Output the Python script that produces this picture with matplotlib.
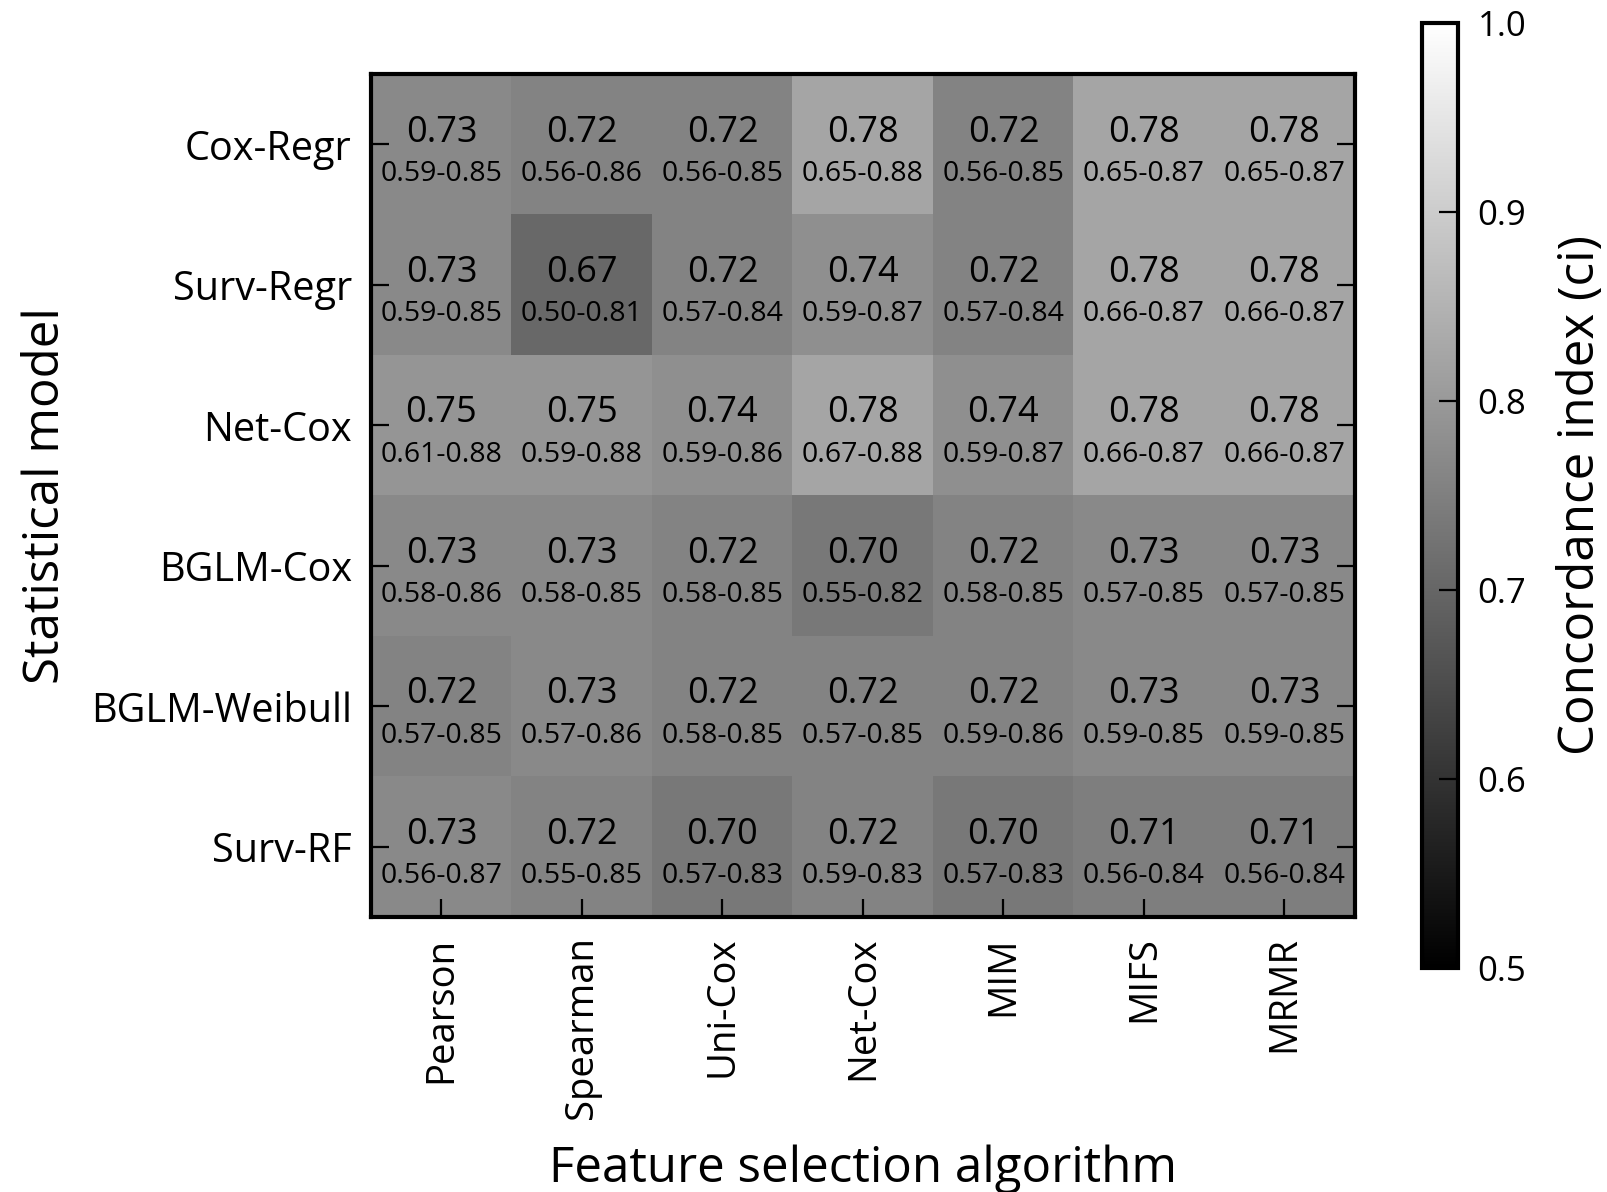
import matplotlib
matplotlib.use("Agg")
import matplotlib.pyplot as plt
from matplotlib.colors import Normalize
from matplotlib.cm import ScalarMappable
import numpy as np

plt.rcParams['font.family'] = ['Open Sans', 'DejaVu Sans'];

models = ["Cox-Regr", "Surv-Regr", "Net-Cox", "BGLM-Cox", "BGLM-Weibull", "Surv-RF"];
selectors = ["Pearson", "Spearman", "Uni-Cox", "Net-Cox", "MIM", "MIFS", "MRMR"];

ci_mean = [
    [0.73, 0.72, 0.72, 0.78, 0.72, 0.78, 0.78],
    [0.73, 0.67, 0.72, 0.74, 0.72, 0.78, 0.78],
    [0.75, 0.75, 0.74, 0.78, 0.74, 0.78, 0.78],
    [0.73, 0.73, 0.72, 0.70, 0.72, 0.73, 0.73],
    [0.72, 0.73, 0.72, 0.72, 0.72, 0.73, 0.73],
    [0.73, 0.72, 0.70, 0.72, 0.70, 0.71, 0.71],
];
ci_low = [
    [0.59, 0.56, 0.56, 0.65, 0.56, 0.65, 0.65],
    [0.59, 0.50, 0.57, 0.59, 0.57, 0.66, 0.66],
    [0.61, 0.59, 0.59, 0.67, 0.59, 0.66, 0.66],
    [0.58, 0.58, 0.58, 0.55, 0.58, 0.57, 0.57],
    [0.57, 0.57, 0.58, 0.57, 0.59, 0.59, 0.59],
    [0.56, 0.55, 0.57, 0.59, 0.57, 0.56, 0.56],
];
ci_high = [
    [0.85, 0.86, 0.85, 0.88, 0.85, 0.87, 0.87],
    [0.85, 0.81, 0.84, 0.87, 0.84, 0.87, 0.87],
    [0.88, 0.88, 0.86, 0.88, 0.87, 0.87, 0.87],
    [0.86, 0.85, 0.85, 0.82, 0.85, 0.85, 0.85],
    [0.85, 0.86, 0.85, 0.85, 0.86, 0.85, 0.85],
    [0.87, 0.85, 0.83, 0.83, 0.83, 0.84, 0.84],
];


def draw_heatmap(fig):
    ax = fig.add_axes([0.231, 0.2307, 0.612, 0.707]);
    vals = np.array(ci_mean);
    # cells in the original are a bit lighter than the colorbar says
    ax.imshow(vals, cmap="gray", vmin=0.485, vmax=0.94, aspect="auto",
              interpolation="nearest");

    for i in range(len(models)):
        for j in range(len(selectors)):
            ax.text(j, i - 0.085, "%.2f" % ci_mean[i][j], ha="center", va="center",
                    fontsize=26, color="black");
            ax.text(j, i + 0.21, "%.2f-%.2f" % (ci_low[i][j], ci_high[i][j]),
                    ha="center", va="center", fontsize=20.5, color="black");

    ax.set_xticks(range(len(selectors)));
    ax.set_xticklabels(selectors, rotation=90);
    ax.set_yticks(range(len(models)));
    ax.set_yticklabels(models);
    ax.tick_params(axis="both", direction="in", length=13, width=1.6,
                   pad=14, top=False, right=True, color="black");
    ax.tick_params(axis="x", labelsize=27.5);
    ax.tick_params(axis="y", labelsize=28.5);
    for s in ax.spines.values():
        s.set_linewidth(3);

    ax.set_xlabel("Feature selection algorithm", fontsize=35.5, labelpad=18);
    ax.set_ylabel("Statistical model", fontsize=35.5, labelpad=14);
    return ax;


def draw_colorbar(fig):
    cax = fig.add_axes([0.885, 0.188, 0.0224, 0.793]);
    sm = ScalarMappable(norm=Normalize(0.5, 1.0), cmap="gray");
    cb = fig.colorbar(sm, cax=cax, ticks=[0.5, 0.6, 0.7, 0.8, 0.9, 1.0]);
    cb.ax.set_yticklabels(["0.5", "0.6", "0.7", "0.8", "0.9", "1.0"]);
    cb.outline.set_linewidth(3);
    cb.ax.tick_params(direction="in", length=14, width=1.6, labelsize=25, pad=14);
    cb.set_label("Concordance index (ci)", fontsize=35.5, labelpad=22);
    return cb;


if __name__ == "__main__":
    fig = plt.figure(figsize=(16.07, 11.92), dpi=100);
    draw_heatmap(fig);
    draw_colorbar(fig);
    fig.savefig("out.png", dpi=100, facecolor="white");
